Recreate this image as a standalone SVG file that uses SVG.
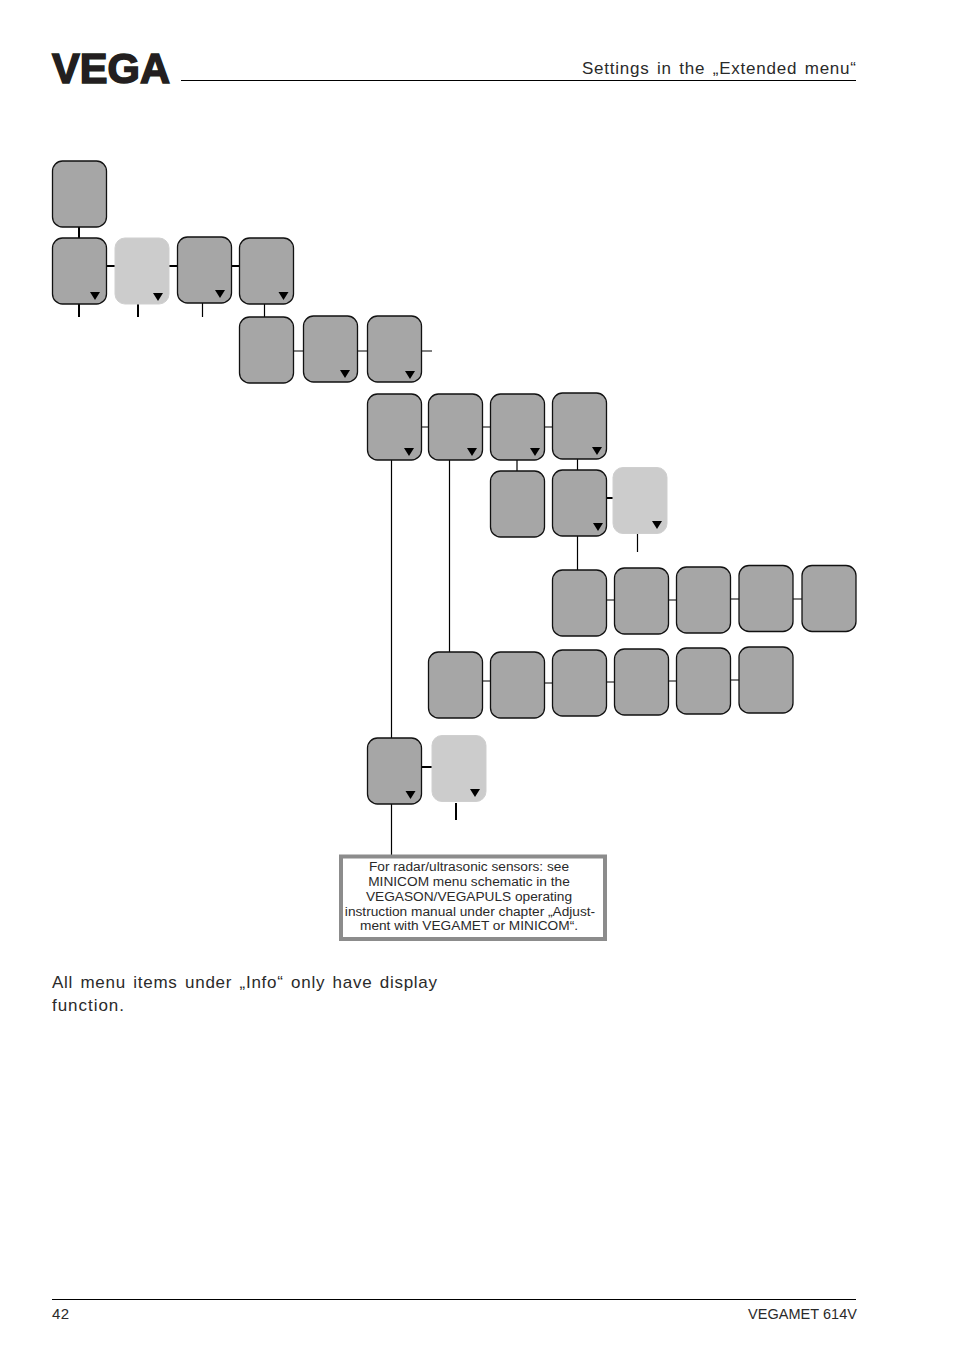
<svg xmlns="http://www.w3.org/2000/svg" width="954" height="1352" viewBox="0 0 954 1352">
<style>
text{font-family:"Liberation Sans",Arial,sans-serif;fill:#2a2a2a}
.n{width:54px;height:66px;rx:10px;ry:10px;fill:#a6a6a6;stroke:#111;stroke-width:1.3}
.l{width:54px;height:66px;rx:10px;ry:10px;fill:#cccccc;stroke:#cfcfcf;stroke-width:1}
.a{fill:#000}
.c1{stroke:#000;stroke-width:1.2;fill:none}
.c2{stroke:#000;stroke-width:2;fill:none}
.h{font-size:17px;word-spacing:2px}
.b{font-size:13.7px;text-anchor:middle}
</style>
<defs>
<path id="arr" class="a" d="M-5 -4H5L0 4Z"/>
</defs>
<g id="page-header">
<text x="52" y="82.500" font-size="43" font-weight="700" textLength="118" lengthAdjust="spacingAndGlyphs" style="fill:#231f20;stroke:#231f20;stroke-width:1.6">VEGA</text>
<path class="c1" d="M181 80.500H856"/>
<text class="h" x="582" y="73.500" textLength="274" lengthAdjust="spacing">Settings in the „Extended menu“</text>
</g>
<g id="connectors">
<path class="c2" d="M79 227V238M106 266H115M169 266H177M232 266H240M79 304V317M138 304V317M422 767H432M607 498H613M456 803V820"/>
<path class="c1" d="M202.500 303V317M264.500 304V317M294 351H303M357 351H367M421 351H432M421 427H428M482 427H491M545 427H553M517 460V471M577.500 459V470M637.500 534V552M577.500 536V570M391.500 460V738M449.500 460V652M391.500 804V855M607 600H615M669 600H677M731 599H739M793 599H802M482 681H491M545 683H553M607 682H615M669 681H677M731 680H739"/>
</g>
<g id="nodes">
<g id="n1"><rect class="n" x="52.500" y="161"/></g>
<g id="n2"><rect class="n" x="52.500" y="238"/><use href="#arr" x="95" y="296"/></g>
<g id="n3"><rect class="l" x="115" y="238"/><use href="#arr" x="158" y="297"/></g>
<g id="n4"><rect class="n" x="177.500" y="237"/><use href="#arr" x="220" y="294"/></g>
<g id="n5"><rect class="n" x="239.500" y="238"/><use href="#arr" x="283.500" y="296"/></g>
<g id="n6"><rect class="n" x="239.500" y="317"/></g>
<g id="n7"><rect class="n" x="303.500" y="316"/><use href="#arr" x="345" y="374"/></g>
<g id="n8"><rect class="n" x="367.500" y="316"/><use href="#arr" x="410" y="375"/></g>
<g id="n9"><rect class="n" x="367.500" y="394"/><use href="#arr" x="409" y="452"/></g>
<g id="n10"><rect class="n" x="428.500" y="394"/><use href="#arr" x="472" y="452"/></g>
<g id="n11"><rect class="n" x="490.500" y="394"/><use href="#arr" x="535" y="452"/></g>
<g id="n12"><rect class="n" x="552.500" y="393"/><use href="#arr" x="597" y="451"/></g>
<g id="n13"><rect class="n" x="490.500" y="471"/></g>
<g id="n14"><rect class="n" x="552.500" y="470"/><use href="#arr" x="598" y="527"/></g>
<g id="n15"><rect class="l" x="613" y="467.500"/><use href="#arr" x="657" y="525"/></g>
<g id="n16"><rect class="n" x="552.500" y="570"/></g>
<g id="n17"><rect class="n" x="614.500" y="568"/></g>
<g id="n18"><rect class="n" x="676.500" y="567"/></g>
<g id="n19"><rect class="n" x="739" y="565.500"/></g>
<g id="n20"><rect class="n" x="802" y="565.500"/></g>
<g id="n21"><rect class="n" x="428.500" y="652"/></g>
<g id="n22"><rect class="n" x="490.500" y="652"/></g>
<g id="n23"><rect class="n" x="552.500" y="650"/></g>
<g id="n24"><rect class="n" x="614.500" y="649"/></g>
<g id="n25"><rect class="n" x="676.500" y="648"/></g>
<g id="n26"><rect class="n" x="739" y="647"/></g>
<g id="n27"><rect class="n" x="367.500" y="738"/><use href="#arr" x="410.500" y="795"/></g>
<g id="n28"><rect class="l" x="432" y="735.500"/><use href="#arr" x="475" y="793"/></g>
<g id="note">
<rect x="341" y="856.500" width="264" height="82.500" fill="#fff" stroke="#8c8c8c" stroke-width="4"/>
<text class="b" x="469" y="871">For radar/ultrasonic sensors: see</text>
<text class="b" x="469" y="886">MINICOM menu schematic in the</text>
<text class="b" x="469" y="901">VEGASON/VEGAPULS operating</text>
<text class="b" x="470" y="916">instruction manual under chapter „Adjust-</text>
<text class="b" x="469" y="930">ment with VEGAMET or MINICOM“.</text>
</g>
</g>
<g id="body-text">
<text class="h" x="52" y="988" textLength="385" lengthAdjust="spacing">All menu items under „Info“ only have display</text>
<text class="h" x="52" y="1010.500" textLength="72" lengthAdjust="spacing">function.</text>
</g>
<g id="page-footer">
<path class="c1" d="M52 1299.500H856"/>
<text x="52" y="1319" font-size="15" textLength="17">42</text>
<text x="857" y="1319" font-size="14.500" text-anchor="end" textLength="109">VEGAMET 614V</text>
</g>
</svg>
